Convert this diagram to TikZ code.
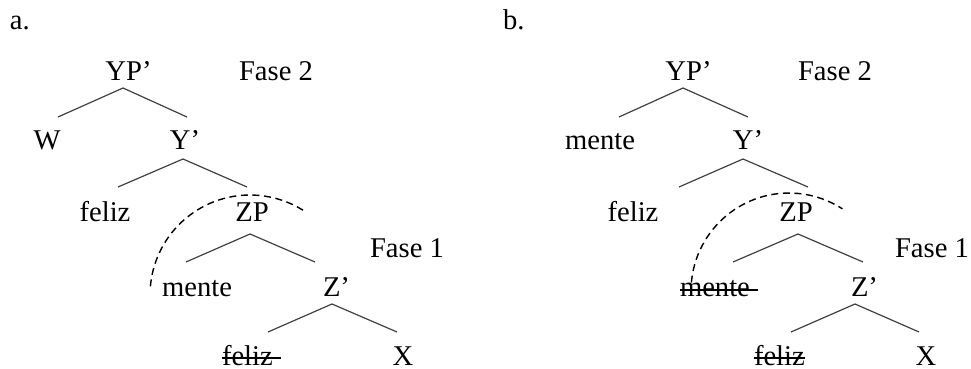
\documentclass[tikz,border=0pt]{standalone}
\usepackage{fontspec}
\setmainfont{Liberation Serif}
\begin{document}
\begin{tikzpicture}[x=0.5pt,y=-0.5pt,
  every node/.style={inner sep=0pt, outer sep=0pt, anchor=base, font=\fontsize{14.3pt}{17pt}\selectfont},
  branch/.style={draw=black!75, line width=0.6pt},
  phase/.style={draw=black, line width=0.7pt, dash pattern=on 3.5pt off 2.3pt},
  strike/.style={draw=black, line width=0.6pt}]
\useasboundingbox (0,0) rectangle (971,369);

% ---------- panel a ----------
\node[anchor=base west] (la) at (10,30) {a.};
\node (aYPp) at (128.5,81) {YP’};
\node (aF2) at (276,81) {Fase 2};
\node (aW) at (47,150) {W};
\node (aYp) at (185,150) {Y’};
\node (afeliz1) at (105,222) {feliz};
\node (aZP) at (252,222) {ZP};
\node (aF1) at (407,257) {Fase 1};
\node (amente) at (197,297) {mente};
\node (aZp) at (336.5,297) {Z’};
\node[anchor=base west] (afeliz2) at (222,365) {feliz};
\node (aX) at (403,365) {X};

\coordinate (aA1) at (123,88);  \coordinate (aA1l) at (58,117);  \coordinate (aA1r) at (187,117);
\coordinate (aA2) at (183,159); \coordinate (aA2l) at (118,187); \coordinate (aA2r) at (247,187);
\coordinate (aA3) at (250,234); \coordinate (aA3l) at (186,262); \coordinate (aA3r) at (315,262);
\coordinate (aA4) at (332,304); \coordinate (aA4l) at (268,332); \coordinate (aA4r) at (397,332);
\draw[branch] (aA1l) -- (aA1) -- (aA1r);
\draw[branch] (aA2l) -- (aA2) -- (aA2r);
\draw[branch] (aA3l) -- (aA3) -- (aA3r);
\draw[branch] (aA4l) -- (aA4) -- (aA4r);
\draw[strike] ([yshift=3.5pt]afeliz2.base west) -- ([xshift=4pt,yshift=3.5pt]afeliz2.base east);
\coordinate (aarc) at (150.4,286.3);
\draw[phase] (aarc) arc[start angle=175, end angle=58, radius=50pt];

% ---------- panel b ----------
\node[anchor=base west] (lb) at (503,30) {b.};
\node (bYPp) at (688.5,81) {YP’};
\node (bF2) at (835,81) {Fase 2};
\node (bmente1) at (600,150) {mente};
\node (bYp) at (748,150) {Y’};
\node (bfeliz1) at (633,222) {feliz};
\node (bZP) at (796,222) {ZP};
\node (bF1) at (932,257) {Fase 1};
\node[anchor=base west] (bmente2) at (680,297) {mente};
\node (bZp) at (864.5,297) {Z’};
\node[anchor=base west] (bfeliz2) at (754,365) {feliz};
\node (bX) at (926,365) {X};

\coordinate (bA1) at (683,88);  \coordinate (bA1l) at (619,117); \coordinate (bA1r) at (748,117);
\coordinate (bA2) at (743,159); \coordinate (bA2l) at (679,187); \coordinate (bA2r) at (808,187);
\coordinate (bA3) at (798,234); \coordinate (bA3l) at (733,262); \coordinate (bA3r) at (863,262);
\coordinate (bA4) at (855,304); \coordinate (bA4l) at (791,332); \coordinate (bA4r) at (919,332);
\draw[branch] (bA1l) -- (bA1) -- (bA1r);
\draw[branch] (bA2l) -- (bA2) -- (bA2r);
\draw[branch] (bA3l) -- (bA3) -- (bA3r);
\draw[branch] (bA4l) -- (bA4) -- (bA4r);
\draw[strike] ([yshift=3.5pt]bmente2.base west) -- ([xshift=4pt,yshift=3.5pt]bmente2.base east);
\draw[strike] ([yshift=3.5pt]bfeliz2.base west) -- ([yshift=3.5pt]bfeliz2.base east);
\coordinate (barc) at (691.4,282.5);
\draw[phase] (barc) arc[start angle=175, end angle=57, radius=49pt];
\end{tikzpicture}
\end{document}
